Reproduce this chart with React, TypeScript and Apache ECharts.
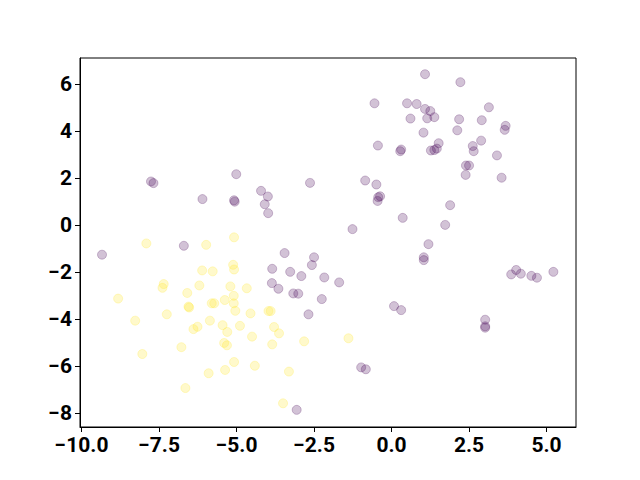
import React, { useEffect, useRef } from "react";
import * as echarts from "echarts";

// Class 0 (purple) points [x, y]
const purplePoints: number[][] = [
  [-7.76, 1.86], [-7.68, 1.79], [-5.01, 2.17], [-0.55, 5.19], [0.5, 5.19], [0.81, 5.16],
  [0.61, 4.54], [-0.44, 3.39], [0.31, 3.22], [0.28, 3.15], [-0.85, 1.9], [-0.49, 1.73],
  [-2.63, 1.8], [-4.21, 1.46], [1.08, 6.43], [2.22, 6.09], [1.08, 4.95], [1.25, 4.86],
  [1.15, 4.55], [1.38, 4.6], [3.14, 5.02], [2.18, 4.51], [2.91, 4.47], [3.68, 4.23],
  [3.65, 4.06], [1.03, 3.94], [2.12, 4.04], [1.52, 3.49], [1.27, 3.18], [1.38, 3.2],
  [1.46, 3.26], [2.62, 3.37], [2.65, 3.15], [2.89, 3.6], [3.4, 2.97], [2.4, 2.54],
  [2.5, 2.54], [2.39, 2.14], [3.55, 2.02], [-6.1, 1.11], [-5.08, 1.06], [-5.06, 1.0],
  [-9.34, -1.26], [-6.7, -0.88], [-3.99, 1.22], [-4.09, 0.89], [-3.98, 0.51], [-0.43, 1.19],
  [-0.45, 1.03], [-0.37, 1.23], [0.36, 0.31], [-1.26, -0.17], [1.89, 0.85], [1.73, 0.01],
  [1.19, -0.81], [1.04, -1.37], [1.04, -1.49], [3.86, -2.1], [4.02, -1.91], [4.17, -2.07],
  [4.51, -2.16], [4.69, -2.24], [5.22, -1.99], [-3.45, -1.19], [-2.5, -1.37], [-2.57, -1.7],
  [-3.85, -1.86], [-3.27, -1.99], [-2.91, -2.17], [-2.17, -2.23], [-1.69, -2.44], [-3.86, -2.47],
  [-3.65, -2.71], [-3.17, -2.91], [-3.01, -2.92], [-2.25, -3.15], [0.08, -3.45], [0.31, -3.62],
  [-2.68, -3.8], [-0.98, -6.06], [-0.83, -6.14], [-3.06, -7.87], [3.02, -4.03], [3.02, -4.31],
  [3.02, -4.37],
];

// Class 1 (yellow) points [x, y]
const yellowPoints: number[][] = [
  [-7.91, -0.78], [-5.98, -0.84], [-5.08, -0.52], [-5.11, -1.69], [-5.08, -1.89], [-6.11, -1.93],
  [-5.77, -1.97], [-7.35, -2.51], [-7.39, -2.67], [-6.2, -2.57], [-6.59, -2.89], [-5.2, -2.61],
  [-4.67, -2.69], [-5.09, -3.01], [-8.82, -3.13], [-5.38, -3.19], [-5.8, -3.33], [-5.72, -3.33],
  [-6.55, -3.47], [-6.53, -3.51], [-5.09, -3.33], [-5.04, -3.65], [-7.25, -3.8], [-4.55, -3.76],
  [-8.27, -4.07], [-5.86, -4.07], [-6.39, -4.43], [-6.26, -4.33], [-5.45, -4.26], [-4.89, -4.29],
  [-5.3, -4.55], [-4.5, -4.75], [-5.4, -5.02], [-5.31, -5.12], [-6.78, -5.2], [-8.04, -5.49],
  [-5.08, -5.83], [-5.37, -6.17], [-5.9, -6.31], [-6.65, -6.94], [-3.97, -3.66], [-3.9, -3.66],
  [-3.79, -4.34], [-3.63, -4.61], [-3.85, -5.08], [-2.82, -4.95], [-1.39, -4.82], [-4.41, -5.99],
  [-3.31, -6.24], [-3.5, -7.59],
];

const xTicks: number[] = [-10, -7.5, -5, -2.5, 0, 2.5, 5];
const yTicks: number[] = [-8, -6, -4, -2, 0, 2, 4, 6];

const X_MIN = -10.05;
const X_MAX = 5.95;
const Y_MIN = -8.6;
const Y_MAX = 7.12;

const fmt = (v: number, d: number) => v.toFixed(d).replace("-", "\u2212");

export default function App() {
  const ref = useRef<HTMLDivElement>(null);
  useEffect(() => {
    if (!ref.current) return;
    const chart = echarts.init(ref.current, null, { renderer: "svg" });
    const labelStyle = {
      color: "#000",
      fontFamily: "Roboto",
      fontWeight: "bold" as const,
      fontSize: 21,
    };
    chart.setOption({
      animation: false,
      backgroundColor: "#fff",
      grid: {
        left: 80,
        right: 64,
        top: 58,
        bottom: 53,
        show: true,
        borderColor: "#000",
        borderWidth: 1,
        backgroundColor: "transparent",
      },
      xAxis: {
        type: "value",
        min: X_MIN,
        max: X_MAX,
        splitLine: { show: false },
        axisLine: { show: true, onZero: false, lineStyle: { color: "#000", width: 1 } },
        axisTick: {
          show: true,
          length: 5,
          customValues: xTicks,
          lineStyle: { color: "#000", width: 1 },
        },
        axisLabel: {
          ...labelStyle,
          margin: 7,
          customValues: xTicks,
          formatter: (v: number) => fmt(v, 1),
        },
      },
      yAxis: {
        type: "value",
        min: Y_MIN,
        max: Y_MAX,
        splitLine: { show: false },
        axisLine: { show: true, onZero: false, lineStyle: { color: "#000", width: 1 } },
        axisTick: {
          show: true,
          length: 5,
          customValues: yTicks,
          lineStyle: { color: "#000", width: 1 },
        },
        axisLabel: {
          ...labelStyle,
          margin: 8,
          customValues: yTicks,
          formatter: (v: number) => fmt(v, 0),
        },
      },
      series: [
        {
          type: "scatter",
          data: purplePoints,
          symbolSize: 9,
          itemStyle: {
            color: "rgba(68,1,84,0.3)",
            borderColor: "rgba(68,1,84,0.3)",
            borderWidth: 1,
          },
        },
        {
          type: "scatter",
          data: yellowPoints,
          symbolSize: 9,
          itemStyle: {
            color: "rgba(253,231,37,0.3)",
            borderColor: "rgba(253,231,37,0.3)",
            borderWidth: 1,
          },
        },
      ],
    });
    return () => chart.dispose();
  }, []);
  return (
    <div
      ref={ref}
      style={{ position: "fixed", left: 0, top: 0, width: 640, height: 480 }}
    />
  );
}
